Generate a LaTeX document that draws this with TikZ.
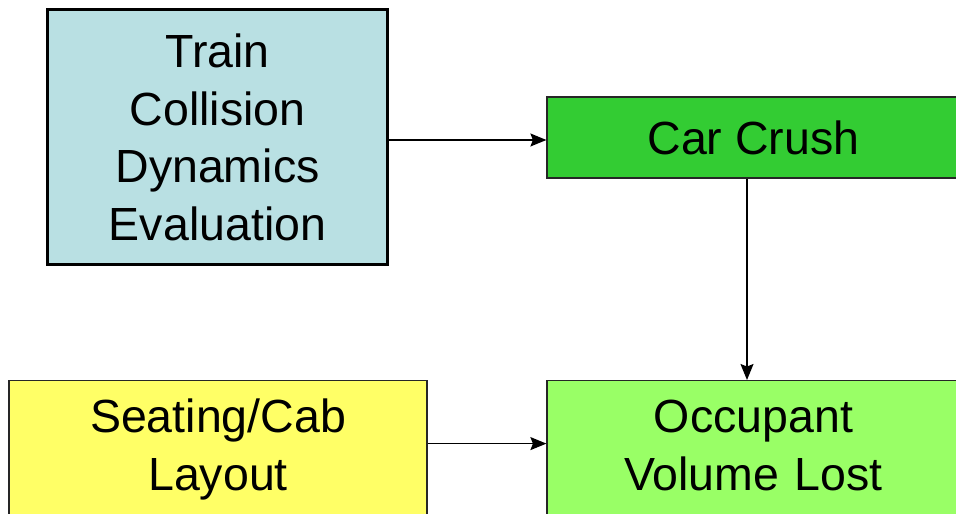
\documentclass[tikz,border=0pt]{standalone}
\usepackage{fontspec}
\setmainfont{Liberation Sans}
\usetikzlibrary{arrows.meta}

\definecolor{dynblue}{HTML}{B9E0E3}
\definecolor{crushgreen}{HTML}{33CC33}
\definecolor{seatyellow}{HTML}{FFFF66}
\definecolor{volgreen}{HTML}{99FF66}

\begin{document}
\begin{tikzpicture}[x=1pt, y=1pt,
  box/.style={draw=black!85, line width=1.2pt, inner sep=0pt, align=center,
    font=\fontsize{46.5}{57.5}\selectfont},
  arr/.style={-{Stealth[length=16pt, width=13pt, inset=2.5pt]}, line width=1.3pt}]
  \useasboundingbox (0,0) rectangle (956,514);
  \clip (0,0) rectangle (956,514);

  % top row
  \node[box, fill=dynblue, draw=black, line width=3pt, minimum width=340pt, minimum height=255pt] (dynamics) at (217.5,376.5) {Train\\Collision\\Dynamics\\Evaluation};
  \node[box, fill=crushgreen, minimum width=413pt, minimum height=81pt] (crush) at (753.5,376.5) {Car Crush};

  % bottom row, runs off the page
  \node[box, fill=seatyellow, anchor=north, text width=418pt, text height=52pt, text depth=97pt] (seating) at (218,134) {Seating/Cab\\Layout};
  \node[box, fill=volgreen, anchor=north, text width=413pt, text height=52pt, text depth=97pt] (volume) at (753.5,134) {Occupant\\Volume Lost};

  % connectors
  \draw[arr] ([yshift=-2.5pt]dynamics.east) -- ([yshift=-2.5pt]crush.west);
  \draw[arr] ([xshift=-6.5pt]crush.south) -- ([xshift=-6.5pt]volume.north);
  \draw[arr] ([yshift=11.5pt]seating.east) -- ([yshift=11.5pt]volume.west);
\end{tikzpicture}
\end{document}
